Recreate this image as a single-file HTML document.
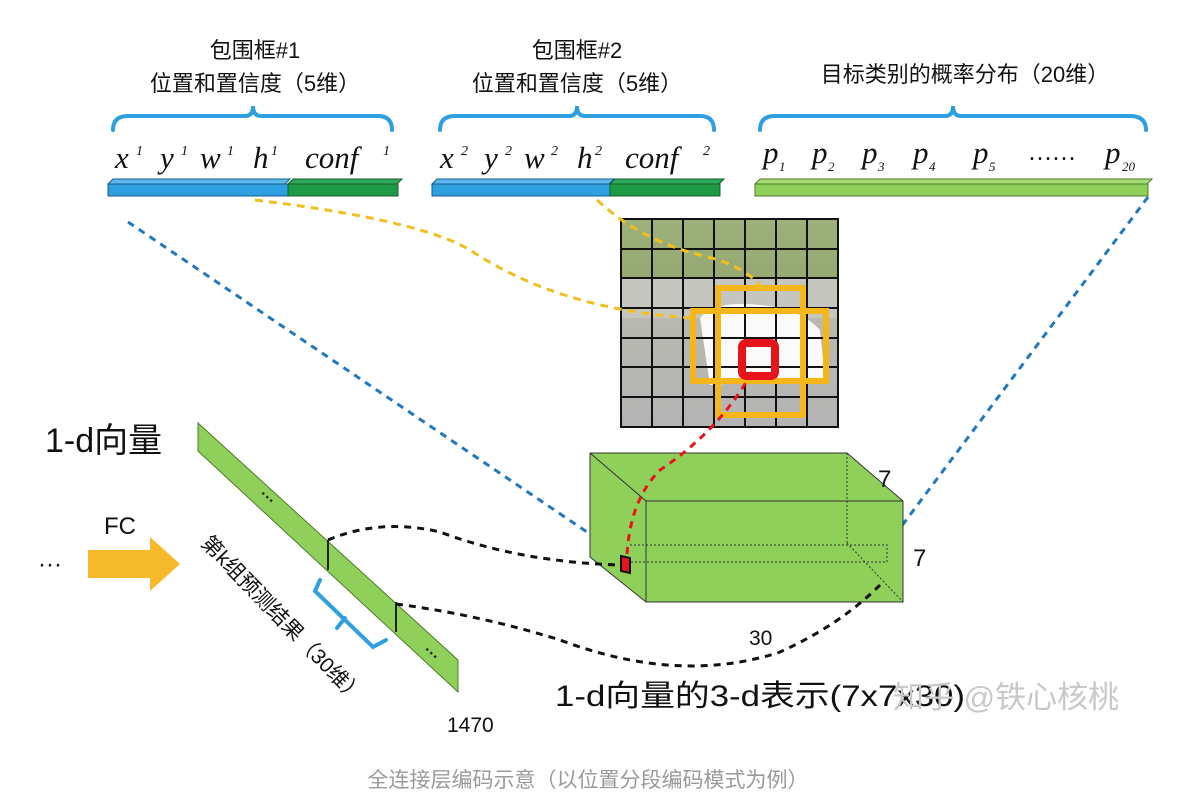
<!DOCTYPE html>
<html><head><meta charset="utf-8"><style>
html,body{margin:0;padding:0;background:#fff;}
svg{display:block;}
.cn{font-family:"Liberation Sans","Noto Sans CJK SC",sans-serif;}
.it{font-family:"Liberation Serif",serif;font-style:italic;}
</style></head><body>
<svg width="1187" height="808" viewBox="0 0 1187 808" xmlns="http://www.w3.org/2000/svg">
<defs>
<linearGradient id="sky" x1="0" y1="0" x2="0" y2="1">
<stop offset="0" stop-color="#a9b98e"/><stop offset="0.3" stop-color="#8fa06c"/><stop offset="0.45" stop-color="#b8b9b0"/><stop offset="1" stop-color="#b4b4b4"/>
</linearGradient>
</defs>
<g class="cn" font-size="22" fill="#111" text-anchor="middle">
<text x="255" y="58">包围框#1</text>
<text x="255" y="91">位置和置信度（5维）</text>
<text x="577" y="58">包围框#2</text>
<text x="577" y="91">位置和置信度（5维）</text>
<text x="965" y="82">目标类别的概率分布（20维）</text>
</g>
<g fill="none" stroke="#2ea0e0" stroke-width="4" stroke-linecap="round">
<path d="M113 130 Q113 116 128 116 L245 116 Q253 116 253 106 Q253 116 261 116 L378 116 Q392 116 392 130"/>
<path d="M440 130 Q440 116 455 116 L569 116 Q577 116 577 106 Q577 116 585 116 L700 116 Q714 116 714 130"/>
<path d="M760 130 Q760 116 775 116 L945 116 Q953 116 953 106 Q953 116 961 116 L1130 116 Q1146 116 1146 130"/>
</g>
<g class="it" font-size="31" fill="#111">
<text x="115" y="168">x</text><text x="136" y="155" font-size="14">1</text>
<text x="160" y="168">y</text><text x="181" y="155" font-size="14">1</text>
<text x="200" y="168">w</text><text x="227" y="155" font-size="14">1</text>
<text x="253" y="168">h</text><text x="271" y="155" font-size="14">1</text>
<text x="305" y="168">conf</text><text x="383" y="155" font-size="14">1</text>
<text x="440" y="168">x</text><text x="461" y="155" font-size="14">2</text>
<text x="484" y="168">y</text><text x="505" y="155" font-size="14">2</text>
<text x="524" y="168">w</text><text x="551" y="155" font-size="14">2</text>
<text x="577" y="168">h</text><text x="595" y="155" font-size="14">2</text>
<text x="625" y="168">conf</text><text x="703" y="155" font-size="14">2</text>
<text x="763" y="163">p</text><text x="779" y="171" font-size="13">1</text>
<text x="812" y="163">p</text><text x="828" y="171" font-size="13">2</text>
<text x="862" y="163">p</text><text x="878" y="171" font-size="13">3</text>
<text x="913" y="163">p</text><text x="929" y="171" font-size="13">4</text>
<text x="973" y="163">p</text><text x="989" y="171" font-size="13">5</text>
<text x="1028" y="160" font-size="24" font-style="normal">……</text>
<text x="1105" y="163">p</text><text x="1122" y="171" font-size="13">20</text>
</g>
<g stroke="#1a5d8a" stroke-width="1">
<path d="M108 184 L113 179 L290 179 L285 184Z" fill="#5bb8ee"/>
<rect x="108" y="184" width="180" height="12" fill="#2ea0e0"/>
<path d="M288 184 L293 179 L402 179 L397 184Z" fill="#2fa85a" stroke="#155e2d"/>
<rect x="288" y="184" width="110" height="12" fill="#1e9a45" stroke="#155e2d"/>
<path d="M432 184 L437 179 L614 179 L609 184Z" fill="#5bb8ee"/>
<rect x="432" y="184" width="178" height="12" fill="#2ea0e0"/>
<path d="M610 184 L615 179 L724 179 L719 184Z" fill="#2fa85a" stroke="#155e2d"/>
<rect x="610" y="184" width="110" height="12" fill="#1e9a45" stroke="#155e2d"/>
<path d="M755 184 L760 179 L1152 179 L1147 184Z" fill="#a7dc75" stroke="#4e7a2a"/>
<rect x="755" y="184" width="393" height="12" fill="#8fd05a" stroke="#4e7a2a"/>
</g>
<rect x="621" y="219" width="217" height="208" fill="url(#sky)"/>
<rect x="621" y="219" width="217" height="60" fill="#9aac74" opacity="0.7"/>
<rect x="621" y="278" width="217" height="40" fill="#c5c6c0"/>
<path d="M700 318 Q715 300 760 305 Q800 308 820 330 L825 378 L710 385 Z" fill="#fafafa"/>
<g stroke="#111" stroke-width="2" fill="none">
<rect x="621" y="219" width="217" height="208"/>
<path d="M652 219V427M683 219V427M714 219V427M745 219V427M776 219V427M807 219V427"/>
<path d="M621 249H838M621 278H838M621 308H838M621 338H838M621 367H838M621 397H838"/>
</g>
<g fill="none" stroke="#f4b619" stroke-width="6">
<rect x="718" y="288" width="85" height="127"/>
<rect x="693" y="311" width="133" height="70"/>
</g>
<rect x="742" y="343" width="33" height="33" rx="4" fill="none" stroke="#e8141c" stroke-width="8"/>
<g fill="none" stroke="#f0c020" stroke-width="3" stroke-dasharray="8,6">
<path d="M255 200 Q420 220 470 250 Q560 310 693 318"/>
<path d="M597 200 Q640 240 700 255 Q745 265 762 288"/>
</g>
<g fill="none" stroke="#1f78c0" stroke-width="3" stroke-dasharray="7,6">
<path d="M128 222 L624 557"/>
<path d="M1148 197 L880 555"/>
</g>
<g stroke="#333" stroke-width="1">
<path d="M590 453 L847 453 L903 501 L903 602 L646 602 L590 557 Z" fill="#8fd05a"/>
<path d="M590 453 L646 501 L903 501" fill="none"/>
<path d="M646 501 L646 602" fill="none"/>
</g>
<g stroke="#333" stroke-width="1" fill="none" stroke-dasharray="2,2">
<path d="M847 453 V543 M847 543 L903 602"/>
<path d="M630 545 H887 V562 H630"/>
</g>
<path d="M621 556 L630 558 L630 573 L621 571 Z" fill="#e8141c" stroke="#111" stroke-width="2"/>
<path d="M752 372 Q720 430 660 470 Q630 500 627 555" fill="none" stroke="#e8141c" stroke-width="3" stroke-dasharray="7,6"/>
<path d="M198 423 L458 660 L458 692 L198 451 Z" fill="#8fd05a" stroke="#4e7a2a" stroke-width="1"/>
<path d="M328 540 V570 M396 602 V632" stroke="#222" stroke-width="2"/>
<g class="cn" font-size="16" font-weight="bold" fill="#222">
<text x="258" y="496" transform="rotate(42 258 496)">···</text>
<text x="422" y="652" transform="rotate(42 422 652)">···</text>
</g>
<g fill="none" stroke="#111" stroke-width="3" stroke-dasharray="7,6">
<path d="M328 540 Q380 518 440 532 Q520 562 620 565"/>
<path d="M396 604 Q480 615 560 640 Q680 685 780 652 Q840 625 880 585"/>
</g>
<path d="M320 580 L315 591 L373 647 L386 640 M345 618 L337 628" fill="none" stroke="#2ea0e0" stroke-width="4" stroke-linecap="round"/>
<path d="M88 550 H150 V537 L180 564 L150 591 V578 H88 Z" fill="#f5b92a"/>
<g class="cn" fill="#111">
<text x="104" y="534" font-size="24">FC</text>
<text x="38" y="572" font-size="24">···</text>
<text x="45" y="452" font-size="34">1-d向量</text>
<text x="447" y="732" font-size="21">1470</text>
<text x="878" y="487" font-size="24">7</text>
<text x="913" y="566" font-size="24">7</text>
<text x="749" y="645" font-size="21">30</text>
<text x="555" y="706" font-size="30" textLength="410" lengthAdjust="spacingAndGlyphs">1-d向量的3-d表示(7x7x30)</text>
<text x="200" y="544" font-size="21" transform="rotate(46 200 544)">第k组预测结果（30维）</text>
<text x="893" y="708" font-size="31" fill="#c8c8c8">知乎 @铁心核桃</text>
<text x="588" y="787" font-size="21" fill="#9a9a9a" text-anchor="middle">全连接层编码示意（以位置分段编码模式为例）</text>
</g>
</svg>
</body></html>
